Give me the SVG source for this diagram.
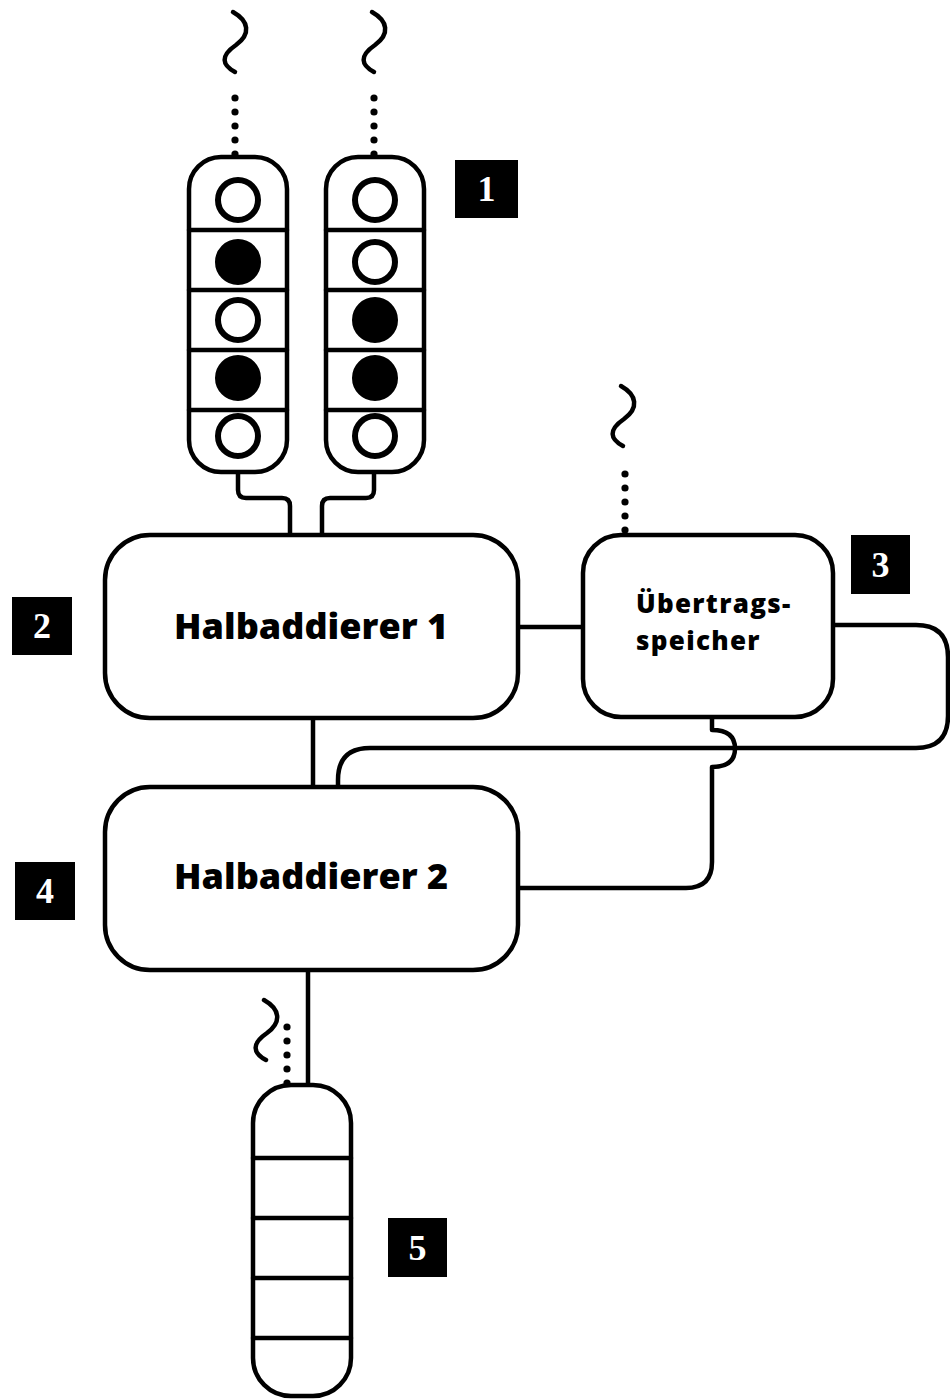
<svg xmlns="http://www.w3.org/2000/svg" width="950" height="1400" viewBox="0 0 950 1400">
<defs>
<style>
.s{fill:none;stroke:#000;stroke-width:4.5;stroke-linecap:round;stroke-linejoin:round}
.b{fill:#fff;stroke:#000;stroke-width:4.5}
.d{fill:#000}
.o{fill:#fff;stroke:#000;stroke-width:6}
.f{fill:#000;stroke:#000;stroke-width:6}
.t{font-family:"Open Sans","DejaVu Sans",sans-serif;font-weight:800;fill:#000}
.n{font-family:"Liberation Serif",serif;font-weight:bold;font-size:36px;fill:#fff;text-anchor:middle}
</style>
<path id="sq" class="s" d="M0 0 C16 9 18 22 3 33 C-13 44 -11 53 2 60"/>
<g id="dots" class="d"><circle cx="0" cy="0" r="3.6"/><circle cx="0" cy="14" r="3.6"/><circle cx="0" cy="28" r="3.6"/><circle cx="0" cy="42" r="3.6"/><circle cx="0" cy="56" r="3.6"/></g>
</defs>
<rect width="950" height="1400" fill="#fff"/>

<g id="connectors">
<path class="s" d="M238 472 V490 Q238 498 246 498 H282 Q290 498 290 506 V535"/>
<path class="s" d="M374 472 V490 Q374 498 366 498 H330 Q322 498 322 506 V535"/>
<path class="s" d="M518 627 H583"/>
<path class="s" d="M833 625 H916 Q948 625 948 657 V716 Q948 748 916 748 H370 Q338 748 338 780 V787"/>
<path class="s" d="M712 717 V730 Q735 730 735 748.5 Q735 767 712 767 V862 Q712 888 686 888 H518"/>
<path class="s" d="M313 718 V787"/>
<path class="s" d="M308 970 V1085"/>
</g>

<g id="input1">
<use href="#sq" x="233" y="12"/>
<use href="#dots" x="235" y="98"/>
<rect class="b" x="189" y="157" width="98" height="315" rx="32"/>
<path class="s" d="M189 230 H287 M189 290 H287 M189 350 H287 M189 410 H287"/>
<circle class="o" cx="238" cy="200" r="20"/>
<circle class="f" cx="238" cy="262" r="20"/>
<circle class="o" cx="238" cy="320" r="20"/>
<circle class="f" cx="238" cy="378" r="20"/>
<circle class="o" cx="238" cy="436" r="20"/>
</g>

<g id="input2">
<use href="#sq" x="372" y="12"/>
<use href="#dots" x="374" y="98"/>
<rect class="b" x="326" y="157" width="98" height="315" rx="32"/>
<path class="s" d="M326 230 H424 M326 290 H424 M326 350 H424 M326 410 H424"/>
<circle class="o" cx="375" cy="200" r="20"/>
<circle class="o" cx="375" cy="262" r="20"/>
<circle class="f" cx="375" cy="320" r="20"/>
<circle class="f" cx="375" cy="378" r="20"/>
<circle class="o" cx="375" cy="436" r="20"/>
</g>

<g id="label1"><rect x="455" y="160" width="63" height="58" fill="#000"/><text class="n" x="486.5" y="201">1</text></g>

<g id="ha1">
<rect class="b" x="105" y="535" width="413" height="183" rx="45"/>
<text class="t" x="311" y="639" font-size="36" text-anchor="middle">Halbaddierer 1</text>
</g>
<g id="label2"><rect x="12" y="597" width="60" height="58" fill="#000"/><text class="n" x="42" y="638">2</text></g>

<g id="carry">
<use href="#sq" x="621" y="386"/>
<use href="#dots" x="625" y="474"/>
<rect class="b" x="583" y="535" width="250" height="182" rx="38"/>
<text class="t" x="636" y="613" font-size="26" letter-spacing="1.3">Übertrags-</text>
<text class="t" x="636" y="650" font-size="26" letter-spacing="1.3">speicher</text>
</g>
<g id="label3"><rect x="851" y="535" width="59" height="59" fill="#000"/><text class="n" x="880.5" y="577">3</text></g>

<g id="ha2">
<rect class="b" x="105" y="787" width="413" height="183" rx="45"/>
<text class="t" x="311" y="889" font-size="36" text-anchor="middle">Halbaddierer 2</text>
</g>
<g id="label4"><rect x="15" y="862" width="60" height="58" fill="#000"/><text class="n" x="45" y="903">4</text></g>

<g id="output">
<use href="#sq" x="264" y="1000"/>
<use href="#dots" x="287" y="1027"/>
<rect class="b" x="253" y="1085" width="98" height="311" rx="38"/>
<path class="s" d="M253 1158 H351 M253 1218 H351 M253 1278 H351 M253 1338 H351"/>
</g>
<g id="label5"><rect x="388" y="1218" width="59" height="59" fill="#000"/><text class="n" x="417.5" y="1260">5</text></g>
</svg>
